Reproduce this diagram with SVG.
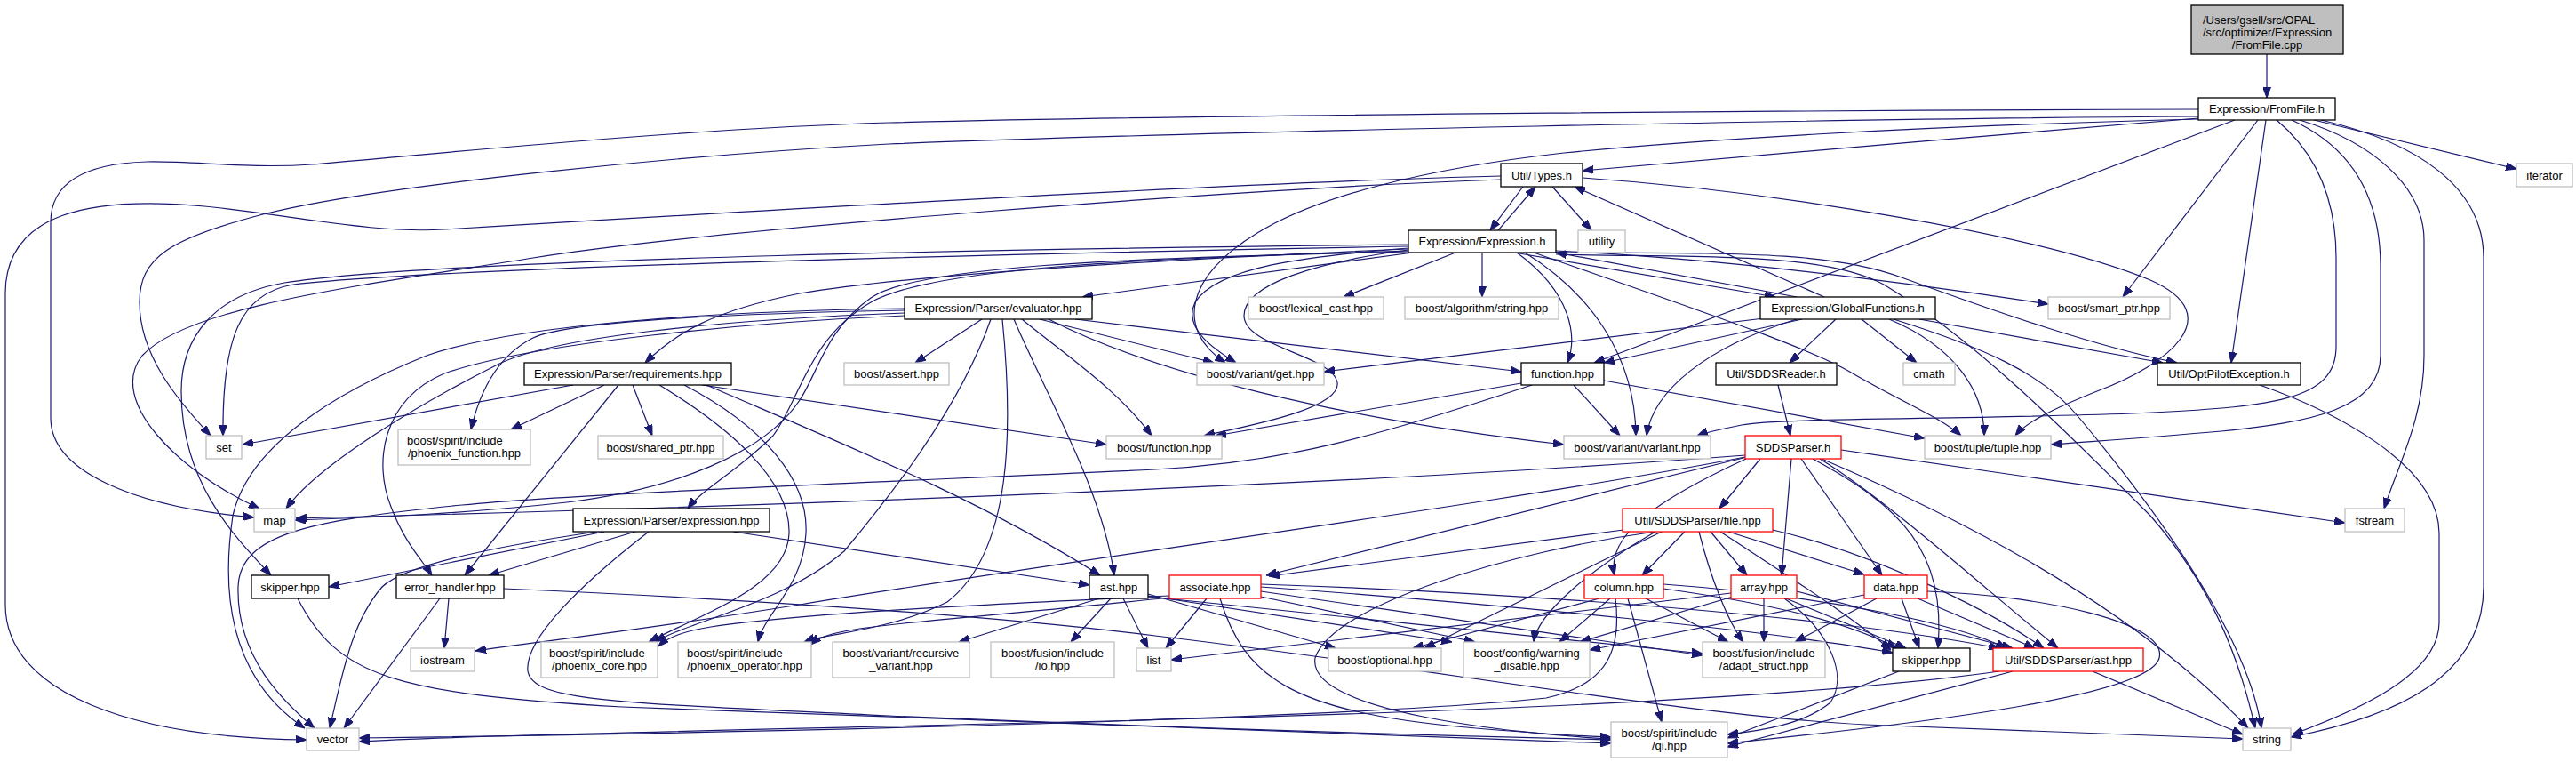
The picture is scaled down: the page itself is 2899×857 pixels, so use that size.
<svg xmlns="http://www.w3.org/2000/svg" width="2899" height="857" viewBox="0 0 2899 857">
<style>
rect{fill:#fff;stroke:#000;stroke-width:1.3}
.g rect{stroke:#bfbfbf}
.r rect{stroke:#f00}
.root rect{fill:#bfbfbf}
text{font-family:"Liberation Sans",Arial,Helvetica,sans-serif;font-size:13px;fill:#000;text-anchor:middle}
text.l{text-anchor:start}
#edges path{fill:none;stroke:#191970;stroke-width:1.2;marker-end:url(#ah)}
</style>
<defs>
<marker id="ah" viewBox="0 0 12 9" refX="12" refY="4.5" markerWidth="12" markerHeight="9" markerUnits="userSpaceOnUse" orient="auto"><path d="M0,0 L12,4.5 L0,9 z" fill="#191970" stroke="#191970" stroke-width="1"/></marker>
</defs>
<rect x="0" y="0" width="2899" height="857" style="fill:#fff;stroke:none"/>
<g id="edges">
<path d="M2551,61 L2551,110"/>
<path d="M2474,133 C2250,152 2000,172 1781,192"/>
<path d="M2474,123 C2100,124 1400,128 1000,138 C760,145 460,176 351,185 C280,190 220,181 165,182 C95,184 57,205 57,250 L57,470 C57,530 150,570 286,582"/>
<path d="M2474,131 C2100,133 1350,148 1000,162 C760,175 430,208 300,240 C190,268 157,290 157,340 C157,400 200,450 237,490"/>
<path d="M2474,134 C2150,142 1900,158 1760,172 C1600,190 1480,222 1415,262 C1335,310 1322,370 1379,408"/>
<path d="M2515,135 L1794,408"/>
<path d="M2541,135 L2389,334"/>
<path d="M2550,135 L2511,408"/>
<path d="M2604,135 L2832,190"/>
<path d="M2562,135 C2610,175 2629,230 2629,290 L2629,390 C2629,450 2560,458 2400,465 C2200,472 2000,470 1960,478 C1935,483 1920,486 1910,490"/>
<path d="M2579,135 C2645,165 2679,220 2679,300 L2679,400 C2679,460 2600,475 2500,485 C2420,492 2360,496 2308,500"/>
<path d="M2588,135 C2670,160 2728,210 2728,270 L2728,400 C2728,470 2700,520 2683,572"/>
<path d="M2612,135 C2720,160 2795,210 2795,290 L2795,660 C2795,760 2700,805 2578,829"/>
<path d="M1714,210 L1677,259"/>
<path d="M1686,259 L1728,210"/>
<path d="M1747,210 L1791,259"/>
<path d="M1689,198 C1400,205 800,240 500,258 C420,263 330,242 230,232 C100,220 6,240 6,330 L6,680 C6,780 150,830 345,832"/>
<path d="M1689,202 C1400,212 800,258 600,290 C400,322 210,345 160,400 C120,450 200,530 292,572"/>
<path d="M1781,200 C2000,215 2300,265 2420,315 C2510,355 2440,410 2360,440 C2310,460 2280,475 2268,490"/>
<path d="M2053,334 L1772,210"/>
<path d="M1590,284 L1218,334"/>
<path d="M1638,284 L1512,334"/>
<path d="M1668,284 L1668,334"/>
<path d="M1704,284 L1998,334"/>
<path d="M2022,334 L1751,284"/>
<path d="M1707,284 C1770,330 1775,380 1764,408"/>
<path d="M1716,284 C1790,330 1840,400 1841,490"/>
<path d="M1726,284 C1900,345 2040,392 2085,420 C2140,452 2185,470 2207,490"/>
<path d="M1751,286 C1900,290 2050,282 2120,320 C2220,380 2320,480 2420,580 C2490,660 2520,740 2538,819"/>
<path d="M1751,282 C1950,292 2150,318 2305,342"/>
<path d="M1751,284 C1950,285 2060,282 2140,312 C2250,352 2360,390 2450,408"/>
<path d="M1585,280 C1400,288 1050,305 900,330 C800,350 760,375 726,408"/>
<path d="M1585,282 C1300,290 1050,300 980,340 C910,380 900,450 870,490 C830,530 790,550 774,572"/>
<path d="M1585,277 C1200,284 500,300 330,320 C270,330 250,380 251,490"/>
<path d="M1585,275 C1200,279 500,290 320,318 C240,332 204,380 204,440 C204,540 260,600 305,647"/>
<path d="M1585,283 C1250,290 1030,300 980,335 C930,370 920,420 900,450 C860,510 760,550 638,565 C520,578 420,582 332,585"/>
<path d="M1585,279 C1470,288 1370,300 1345,340 C1330,370 1370,395 1391,408"/>
<path d="M1585,281 C1480,295 1400,320 1400,355 C1400,390 1500,400 1505,430 C1510,460 1400,480 1355,490"/>
<path d="M1105,359 L1030,408"/>
<path d="M1141,359 C1180,450 1240,550 1254,647"/>
<path d="M1150,359 C1200,400 1260,440 1296,490"/>
<path d="M1170,359 L1366,408"/>
<path d="M1210,359 L1712,418"/>
<path d="M1180,359 C1300,420 1500,470 1760,500"/>
<path d="M1018,349 C850,352 640,360 600,380 C560,400 540,440 530,483"/>
<path d="M1018,352 C800,360 620,380 560,410 C480,450 360,520 322,572"/>
<path d="M1018,347 C800,350 580,365 480,400 C380,440 280,500 262,580 C250,660 255,760 343,819"/>
<path d="M1018,355 C850,362 600,385 500,420 C430,450 420,520 440,570 C455,610 475,630 486,647"/>
<path d="M1115,359 C1080,460 1000,560 950,620 C880,680 770,700 738,722"/>
<path d="M1128,359 C1140,480 1140,620 1066,677 C1000,710 930,712 905,722"/>
<path d="M742,433 C820,480 890,540 888,600 C886,660 790,690 730,722"/>
<path d="M770,433 C860,480 910,540 907,600 C904,660 860,690 853,722"/>
<path d="M645,433 L273,500"/>
<path d="M680,433 L575,483"/>
<path d="M712,433 L734,490"/>
<path d="M696,433 L523,647"/>
<path d="M790,433 L1245,500"/>
<path d="M795,433 C950,500 1100,560 1238,647"/>
<path d="M680,598 L370,660"/>
<path d="M672,598 C520,620 450,640 430,660 C395,700 385,760 371,819"/>
<path d="M715,598 L550,647"/>
<path d="M730,598 C650,660 590,720 594,755 C600,790 700,790 1000,805 C1400,822 1650,828 1813,832"/>
<path d="M825,598 L1226,658"/>
<path d="M335,673 C380,760 440,780 700,795 C1200,815 1600,828 1813,836"/>
<path d="M505,673 L500,729"/>
<path d="M495,673 L387,819"/>
<path d="M567,662 C800,672 1100,690 1300,715 C1600,750 1900,805 2100,815 C2300,823 2450,828 2524,831"/>
<path d="M1237,673 L1079,722"/>
<path d="M1250,673 L1205,722"/>
<path d="M1264,673 L1292,729"/>
<path d="M1292,668 L1503,729"/>
<path d="M1292,670 L1634,722"/>
<path d="M1292,671 L1916,735"/>
<path d="M1358,673 L1312,729"/>
<path d="M1373,673 C1400,760 1450,800 1650,818 C1720,824 1780,828 1813,829"/>
<path d="M1316,670 C1100,680 900,690 800,705 C770,710 752,716 741,727"/>
<path d="M1316,672 C1150,690 1000,700 950,710 C930,714 920,718 912,725"/>
<path d="M1419,671 L1660,722"/>
<path d="M1419,665 L1916,737"/>
<path d="M1419,660 C1700,680 2000,710 2130,734"/>
<path d="M1419,657 C1800,670 2100,700 2250,729"/>
<path d="M1800,673 L1590,729"/>
<path d="M1812,673 L1755,722"/>
<path d="M1832,673 L1870,812"/>
<path d="M1852,673 L1945,722"/>
<path d="M1818,673 C1825,730 1810,770 1740,785 C1500,810 800,825 404,830"/>
<path d="M1872,662 C2000,680 2080,700 2135,729"/>
<path d="M1872,657 C2050,670 2200,700 2258,729"/>
<path d="M1948,667 L1318,742"/>
<path d="M1985,673 L1985,722"/>
<path d="M1950,671 L1778,722"/>
<path d="M2010,673 L2145,729"/>
<path d="M2022,665 L2265,729"/>
<path d="M2008,673 C2060,710 2080,760 2060,790 C2030,815 1980,822 1944,826"/>
<path d="M2112,673 L2020,722"/>
<path d="M2098,669 L1789,731"/>
<path d="M2140,673 L2160,729"/>
<path d="M2158,673 L2290,729"/>
<path d="M2169,665 C2300,670 2440,700 2430,740 C2420,780 2200,810 1944,836"/>
<path d="M2137,755 L1944,830"/>
<path d="M2265,755 L1944,840"/>
<path d="M2355,755 L2524,826"/>
<path d="M2250,755 C2000,790 1500,805 1200,812 C800,822 500,828 404,834"/>
<path d="M1827,596 L1428,648"/>
<path d="M1863,598 C1700,620 1500,680 1480,740 C1470,800 1700,825 1813,831"/>
<path d="M1870,598 L1603,729"/>
<path d="M1863,598 C1790,640 1730,690 1726,722"/>
<path d="M1896,598 L1848,647"/>
<path d="M1912,598 C1925,650 1945,700 1962,722"/>
<path d="M1925,598 L1966,647"/>
<path d="M1945,598 L2098,646"/>
<path d="M1936,598 C2000,640 2080,690 2128,731"/>
<path d="M1995,596 C2100,620 2230,680 2300,729"/>
<path d="M1981,516 L1935,572"/>
<path d="M1965,516 C1870,560 1807,600 1817,647"/>
<path d="M1966,514 L1425,647"/>
<path d="M1964,512 C1600,540 1000,566 333,583"/>
<path d="M1964,514 C1700,565 1200,630 900,680 C700,712 600,722 535,732"/>
<path d="M2016,516 L2005,647"/>
<path d="M2027,516 L2118,647"/>
<path d="M2040,516 C2140,570 2190,620 2181,729"/>
<path d="M2048,516 C2120,560 2220,650 2316,729"/>
<path d="M2050,516 C2200,580 2400,680 2530,819"/>
<path d="M2072,506 L2639,588"/>
<path d="M2001,433 L2015,490"/>
<path d="M2066,359 L2014,408"/>
<path d="M2095,359 L2157,408"/>
<path d="M1985,358 L1490,418"/>
<path d="M2028,359 L1805,408"/>
<path d="M2022,359 C1920,390 1860,440 1853,490"/>
<path d="M2126,359 C2200,390 2233,440 2233,490"/>
<path d="M2131,359 C2230,390 2300,420 2340,470 C2440,590 2530,720 2545,819"/>
<path d="M2160,359 L2434,408"/>
<path d="M1771,433 L1823,490"/>
<path d="M1805,428 L2166,493"/>
<path d="M1712,431 L1368,490"/>
<path d="M1724,433 C1550,490 1450,520 1300,528 C1000,542 650,555 520,568 C350,585 270,600 268,660 C266,740 320,790 354,819"/>
<path d="M2543,433 C2620,460 2745,520 2745,600 L2745,700 C2745,760 2650,800 2580,826"/>
</g>
<g id="n_cpp" class="root"><rect x="2466" y="6" width="171" height="55"/><text class="l" x="2479" y="26.5">/Users/gsell/src/OPAL</text><text class="l" x="2479" y="40.5">/src/optimizer/Expression</text><text x="2551.5" y="54.5">/FromFile.cpp</text></g>
<g id="n_fromfile_h"><rect x="2474" y="110" width="154" height="25"/><text x="2551" y="127">Expression/FromFile.h</text></g>
<g id="n_iterator" class="g"><rect x="2832" y="184" width="63" height="26"/><text x="2863.5" y="201.5">iterator</text></g>
<g id="n_types"><rect x="1689" y="184" width="92" height="26"/><text x="1735" y="201.5">Util/Types.h</text></g>
<g id="n_utility" class="g"><rect x="1776" y="259" width="53" height="25"/><text x="1802.5" y="276">utility</text></g>
<g id="n_expression_h"><rect x="1585" y="259" width="166" height="25"/><text x="1668" y="276">Expression/Expression.h</text></g>
<g id="n_evaluator"><rect x="1018" y="334" width="211" height="25"/><text x="1123.5" y="351">Expression/Parser/evaluator.hpp</text></g>
<g id="n_lexical_cast" class="g"><rect x="1405" y="334" width="152" height="25"/><text x="1481" y="351">boost/lexical_cast.hpp</text></g>
<g id="n_algorithm_string" class="g"><rect x="1581" y="334" width="173" height="25"/><text x="1667.5" y="351">boost/algorithm/string.hpp</text></g>
<g id="n_globalfunctions"><rect x="1981" y="334" width="197" height="25"/><text x="2079.5" y="351">Expression/GlobalFunctions.h</text></g>
<g id="n_smart_ptr" class="g"><rect x="2305" y="334" width="137" height="25"/><text x="2373.5" y="351">boost/smart_ptr.hpp</text></g>
<g id="n_requirements"><rect x="590" y="408" width="233" height="25"/><text x="706.5" y="425">Expression/Parser/requirements.hpp</text></g>
<g id="n_assert" class="g"><rect x="950" y="408" width="118" height="25"/><text x="1009" y="425">boost/assert.hpp</text></g>
<g id="n_variant_get" class="g"><rect x="1347" y="408" width="143" height="25"/><text x="1418.5" y="425">boost/variant/get.hpp</text></g>
<g id="n_function_hpp"><rect x="1712" y="408" width="93" height="25"/><text x="1758.5" y="425">function.hpp</text></g>
<g id="n_sddsreader"><rect x="1931" y="408" width="136" height="25"/><text x="1999" y="425">Util/SDDSReader.h</text></g>
<g id="n_cmath" class="g"><rect x="2142" y="408" width="58" height="25"/><text x="2171" y="425">cmath</text></g>
<g id="n_optpilotexception"><rect x="2428" y="408" width="161" height="25"/><text x="2508.5" y="425">Util/OptPilotException.h</text></g>
<g id="n_set" class="g"><rect x="232" y="490" width="40" height="26"/><text x="252" y="507.5">set</text></g>
<g id="n_phoenix_function" class="g"><rect x="448" y="483" width="149" height="40"/><text class="l" x="458" y="499.5">boost/spirit/include</text><text x="522.5" y="513.5">/phoenix_function.hpp</text></g>
<g id="n_shared_ptr" class="g"><rect x="673" y="490" width="141" height="26"/><text x="743.5" y="507.5">boost/shared_ptr.hpp</text></g>
<g id="n_boost_function" class="g"><rect x="1245" y="490" width="130" height="26"/><text x="1310" y="507.5">boost/function.hpp</text></g>
<g id="n_variant" class="g"><rect x="1760" y="490" width="165" height="26"/><text x="1842.5" y="507.5">boost/variant/variant.hpp</text></g>
<g id="n_sddsparser_h" class="r"><rect x="1964" y="490" width="108" height="26"/><text x="2018" y="507.5">SDDSParser.h</text></g>
<g id="n_tuple" class="g"><rect x="2166" y="490" width="142" height="26"/><text x="2237" y="507.5">boost/tuple/tuple.hpp</text></g>
<g id="n_map" class="g"><rect x="286" y="572" width="46" height="26"/><text x="309" y="589.5">map</text></g>
<g id="n_expression_hpp"><rect x="645" y="572" width="221" height="26"/><text x="755.5" y="589.5">Expression/Parser/expression.hpp</text></g>
<g id="n_file_hpp" class="r"><rect x="1826" y="572" width="169" height="26"/><text x="1910.5" y="589.5">Util/SDDSParser/file.hpp</text></g>
<g id="n_fstream" class="g"><rect x="2639" y="572" width="67" height="26"/><text x="2672.5" y="589.5">fstream</text></g>
<g id="n_skipper1"><rect x="283" y="647" width="87" height="26"/><text x="326.5" y="664.5">skipper.hpp</text></g>
<g id="n_error_handler"><rect x="446" y="647" width="121" height="26"/><text x="506.5" y="664.5">error_handler.hpp</text></g>
<g id="n_ast"><rect x="1226" y="647" width="66" height="26"/><text x="1259" y="664.5">ast.hpp</text></g>
<g id="n_associate" class="r"><rect x="1316" y="647" width="103" height="26"/><text x="1367.5" y="664.5">associate.hpp</text></g>
<g id="n_column" class="r"><rect x="1783" y="647" width="89" height="26"/><text x="1827.5" y="664.5">column.hpp</text></g>
<g id="n_array" class="r"><rect x="1948" y="647" width="74" height="26"/><text x="1985" y="664.5">array.hpp</text></g>
<g id="n_data" class="r"><rect x="2098" y="647" width="71" height="26"/><text x="2133.5" y="664.5">data.hpp</text></g>
<g id="n_iostream" class="g"><rect x="462" y="729" width="72" height="26"/><text x="498" y="746.5">iostream</text></g>
<g id="n_phoenix_core" class="g"><rect x="609" y="722" width="131" height="40"/><text class="l" x="618" y="738.5">boost/spirit/include</text><text x="674.5" y="752.5">/phoenix_core.hpp</text></g>
<g id="n_phoenix_operator" class="g"><rect x="763" y="722" width="150" height="40"/><text class="l" x="773" y="738.5">boost/spirit/include</text><text x="838" y="752.5">/phoenix_operator.hpp</text></g>
<g id="n_recursive_variant" class="g"><rect x="937" y="722" width="154" height="40"/><text class="l" x="948.5" y="738.5">boost/variant/recursive</text><text x="1014" y="752.5">_variant.hpp</text></g>
<g id="n_fusion_io" class="g"><rect x="1115" y="722" width="139" height="40"/><text class="l" x="1127" y="738.5">boost/fusion/include</text><text x="1184.5" y="752.5">/io.hpp</text></g>
<g id="n_list" class="g"><rect x="1279" y="729" width="39" height="26"/><text x="1298.5" y="746.5">list</text></g>
<g id="n_optional" class="g"><rect x="1495" y="729" width="127" height="26"/><text x="1558.5" y="746.5">boost/optional.hpp</text></g>
<g id="n_warning_disable" class="g"><rect x="1647" y="722" width="142" height="40"/><text class="l" x="1658.5" y="738.5">boost/config/warning</text><text x="1718" y="752.5">_disable.hpp</text></g>
<g id="n_adapt_struct" class="g"><rect x="1916" y="722" width="138" height="40"/><text class="l" x="1927.5" y="738.5">boost/fusion/include</text><text x="1985" y="752.5">/adapt_struct.hpp</text></g>
<g id="n_skipper2"><rect x="2130" y="729" width="87" height="26"/><text x="2173.5" y="746.5">skipper.hpp</text></g>
<g id="n_sdds_ast" class="r"><rect x="2243" y="729" width="169" height="26"/><text x="2327.5" y="746.5">Util/SDDSParser/ast.hpp</text></g>
<g id="n_vector" class="g"><rect x="345" y="819" width="59" height="25"/><text x="374.5" y="836">vector</text></g>
<g id="n_qi" class="g"><rect x="1813" y="812" width="131" height="40"/><text class="l" x="1824.5" y="828.5">boost/spirit/include</text><text x="1878.5" y="842.5">/qi.hpp</text></g>
<g id="n_string" class="g"><rect x="2524" y="819" width="54" height="25"/><text x="2551" y="836">string</text></g>
</svg>
